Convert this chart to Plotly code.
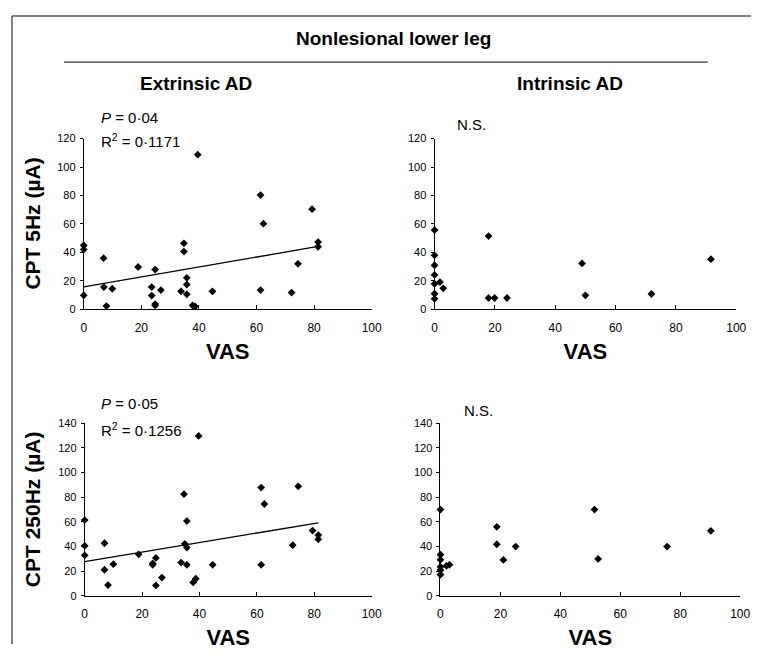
import numpy as np
import plotly.graph_objects as go

# ---- data ----
ext5_vas = [0, 0, 0, 6.9, 7, 7.9, 9.9, 18.9, 23.6, 23.6, 24.8, 24.8, 24.8, 26.8, 33.8,
            34.8, 34.8, 35.8, 35.8, 35.8, 37.8, 38.7, 39.6, 44.7, 61.4, 61.4, 62.4,
            72.2, 74.4, 79.3, 81.4, 81.4]
ext5_cpt = [9.9, 45, 42, 36, 15.7, 2.3, 14.5, 29.8, 15.7, 9.7, 28, 3.7, 2.8, 13.6, 12.7,
            46.4, 40.6, 22.2, 17.5, 10.6, 2.8, 2.1, 108.7, 12.7, 80.3, 13.6, 60.2,
            11.8, 32, 70.4, 47.3, 44]

int5_vas = [0, 0, 0, 0, 0, 0, 0, 1.8, 2.9, 17.9, 17.9, 19.9, 24, 48.9, 50, 71.9, 91.6]
int5_cpt = [55.8, 38, 31, 24.2, 18, 11, 7.4, 19.2, 14.8, 51.5, 8, 8, 8, 32.3, 9.9, 10.8, 35.3]

ext250_vas = [0, 0, 0, 6.9, 6.9, 8.1, 10, 18.8, 23.7, 23.7, 24.8, 24.8, 26.9, 33.6, 34.6,
              34.9, 35.6, 35.6, 35.6, 37.8, 38.7, 39.7, 44.6, 61.5, 61.5, 62.6, 72.5,
              74.4, 79.4, 81.4, 81.4]
ext250_cpt = [61.5, 40.6, 32.9, 42.7, 21.2, 8.8, 25.7, 33.7, 26.3, 25.2, 30.8, 8.5, 14.9,
              27, 82.5, 42.2, 60.7, 39.2, 25.2, 10.9, 14, 129.7, 25.2, 87.8, 25.2, 74.5,
              41.1, 88.8, 53, 49.3, 45.9]

int250_vas = [0, 0, 0, 0, 0, 0, 2, 3, 18.8, 18.8, 21, 25.1, 51.4, 52.6, 75.6, 90.2]
int250_cpt = [70, 33.4, 29.4, 23.6, 21, 17.2, 24.4, 25.2, 56, 41.9, 29.2, 40, 70, 30, 40, 52.8]

x_ticks = [0, 20, 40, 60, 80, 100]
y_ticks_5 = [0, 20, 40, 60, 80, 100, 120]
y_ticks_250 = [0, 20, 40, 60, 80, 100, 120, 140]

title_text = "Nonlesional lower leg"
col_titles = ["Extrinsic AD", "Intrinsic AD"]
row_titles = ["CPT 5Hz (µA)", "CPT 250Hz (µA)"]
stats_5 = ["<i>P</i> = 0·04", "R<sup>2</sup> = 0·1171"]
stats_250 = ["<i>P</i> = 0·05", "R<sup>2</sup> = 0·1256"]
ns_text = "N.S."

# ---- layout geometry ----
# The page body has an 8px margin, so the figure is drawn 16px smaller and
# every position below is given in window pixels, then shifted by that margin.
WIN_W, WIN_H = 769, 658
OFF = 8
W, H = WIN_W - 2 * OFF, WIN_H - 2 * OFF
FONT = "Liberation Sans, Arial, Helvetica, sans-serif"


def px(x):
    return (x - OFF) / W


def py(y):
    return 1 - (y - OFF) / H


panels = [
    # (x data, y data, axis id, x px domain, y px domain, y max, y ticks, fit)
    (ext5_vas, ext5_cpt, "", (82, 375), (309, 135), 120, y_ticks_5, True),
    (int5_vas, int5_cpt, "2", (439, 746), (309, 135), 120, y_ticks_5, False),
    (ext250_vas, ext250_cpt, "3", (83, 375), (601, 425), 140, y_ticks_250, True),
    (int250_vas, int250_cpt, "4", (445, 750), (601, 425), 140, y_ticks_250, False),
]

fig = go.Figure()
layout_axes = {}
for xs, ys, aid, (x0, x1), (y0, y1), ymax, yt, fit in panels:
    xa = "x" + aid
    ya = "y" + aid
    fig.add_trace(go.Scatter(
        x=xs, y=ys, mode="markers", xaxis=xa, yaxis=ya,
        marker=dict(symbol="diamond", size=6, color="black"),
        showlegend=False, cliponaxis=False))
    if fit:
        slope, inter = np.polyfit(xs, ys, 1)
        lx = [min(xs), max(xs)]
        fig.add_trace(go.Scatter(
            x=lx, y=[inter + slope * v for v in lx], mode="lines",
            xaxis=xa, yaxis=ya, line=dict(color="black", width=1.3),
            showlegend=False))
    layout_axes["xaxis" + aid] = dict(
        domain=[px(x0), px(x1)], range=[0, 100], tickvals=x_ticks,
        showgrid=False, zeroline=False, showline=True, linecolor="black",
        linewidth=1, ticks="inside", ticklen=4, tickcolor="black",
        ticklabelstandoff=7,
        tickfont=dict(size=12, family=FONT, color="black"),
        anchor=ya,
        title=dict(text="<b>VAS</b>", font=dict(size=22, family=FONT, color="black"),
                   standoff=9),
    )
    layout_axes["yaxis" + aid] = dict(
        domain=[py(y0), py(y1)], range=[0, ymax], tickvals=yt,
        showgrid=False, zeroline=False, showline=True, linecolor="black",
        linewidth=1, ticks="outside", ticklen=3, tickcolor="black",
        ticklabelstandoff=2,
        tickfont=dict(size=11, family=FONT, color="black"),
        anchor=xa,
    )

fig.update_layout(**layout_axes)

annotations = [
    dict(text="<b>" + title_text + "</b>", x=px(397), y=py(33), font=dict(size=19)),
    dict(text="<b>" + col_titles[0] + "</b>", x=px(196), y=py(79), font=dict(size=19)),
    dict(text="<b>" + col_titles[1] + "</b>", x=px(577), y=py(79), font=dict(size=19)),
    dict(text=stats_5[0], x=px(98), y=py(113), xanchor="left", font=dict(size=15)),
    dict(text=stats_5[1], x=px(98), y=py(137), xanchor="left", font=dict(size=15)),
    dict(text=ns_text, x=px(460), y=py(121), xanchor="left", font=dict(size=15)),
    dict(text=stats_250[0], x=px(98), y=py(405), xanchor="left", font=dict(size=15)),
    dict(text=stats_250[1], x=px(98), y=py(431), xanchor="left", font=dict(size=15)),
    dict(text=ns_text, x=px(467), y=py(412), xanchor="left", font=dict(size=15)),
    dict(text="<b>" + row_titles[0] + "</b>", x=px(30), y=py(222), textangle=-90,
         font=dict(size=21)),
    dict(text="<b>" + row_titles[1] + "</b>", x=px(30), y=py(513), textangle=-90,
         font=dict(size=21)),
]
for a in annotations:
    a.setdefault("xanchor", "center")
    a["yanchor"] = "middle"
    a["xref"] = "paper"
    a["yref"] = "paper"
    a["showarrow"] = False
    a["font"] = dict(family=FONT, color="black", **a["font"])
fig.update_layout(annotations=annotations)

fig.update_layout(shapes=[
    dict(type="line", xref="paper", yref="paper", x0=px(62), x1=px(717),
         y0=py(57), y1=py(57), line=dict(color="black", width=1)),
    dict(type="line", xref="paper", yref="paper", x0=px(9), x1=1,
         y0=py(10), y1=py(10), line=dict(color="#555", width=1.5)),
    dict(type="line", xref="paper", yref="paper", x0=px(9), x1=px(9),
         y0=py(10), y1=0, line=dict(color="#555", width=1.5)),
])

fig.update_layout(
    width=W, height=H, margin=dict(l=0, r=0, t=0, b=0),
    paper_bgcolor="white", plot_bgcolor="white",
    font=dict(family=FONT, color="black"),
)

fig.write_html("out.html")
